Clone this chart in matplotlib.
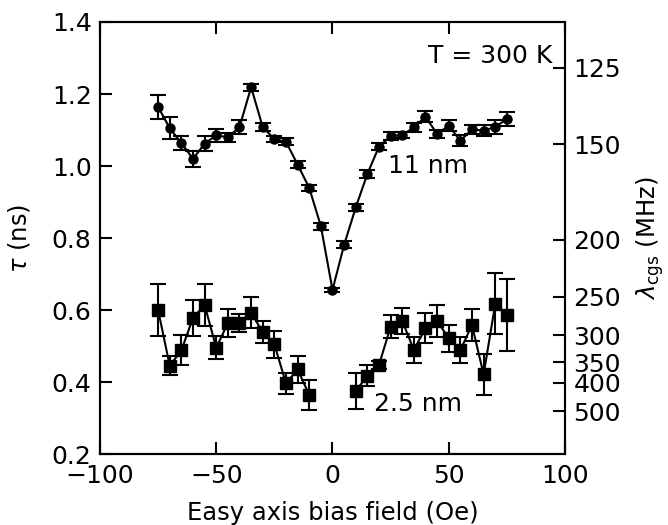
import numpy as np
import matplotlib
matplotlib.use("Agg")
import matplotlib.pyplot as plt

plt.rcParams['font.family'] = ['DejaVu Sans']
plt.rcParams['mathtext.fontset'] = 'dejavusans'

# 11 nm series (circles)
x_11 = [-75, -70, -65, -60, -55, -50, -45, -40, -35, -30, -25, -20, -15, -10, -5, 0,
        5, 10, 15, 20, 25, 30, 35, 40, 45, 50, 55, 60, 65, 70, 75]
tau_11 = [1.164, 1.105, 1.064, 1.020, 1.062, 1.085, 1.080, 1.108, 1.219, 1.108, 1.075, 1.067,
          1.004, 0.939, 0.833, 0.656,
          0.781, 0.885, 0.978, 1.054, 1.083, 1.086, 1.107, 1.137, 1.089, 1.112, 1.070, 1.102,
          1.098, 1.109, 1.130]
err_11 = [0.034, 0.030, 0.020, 0.022, 0.020, 0.018, 0.012, 0.020, 0.010, 0.012, 0.008, 0.010,
          0.010, 0.008, 0.010, 0.006,
          0.010, 0.010, 0.010, 0.010, 0.012, 0.008, 0.012, 0.015, 0.010, 0.015, 0.015, 0.012,
          0.015, 0.020, 0.020]

# 2.5 nm series (squares), two branches
x_25_left = [-75, -70, -65, -60, -55, -50, -45, -40, -35, -30, -25, -20, -15, -10]
tau_25_left = [0.600, 0.445, 0.488, 0.578, 0.614, 0.495, 0.564, 0.564, 0.593, 0.538, 0.505,
               0.396, 0.435, 0.364]
err_25_left = [0.071, 0.026, 0.042, 0.050, 0.058, 0.032, 0.040, 0.026, 0.043, 0.031, 0.038,
               0.028, 0.038, 0.042]
x_25_right = [10, 15, 20, 25, 30, 35, 40, 45, 50, 55, 60, 65, 70, 75]
tau_25_right = [0.375, 0.417, 0.447, 0.554, 0.570, 0.489, 0.550, 0.570, 0.521, 0.489, 0.558,
                0.421, 0.617, 0.587]
err_25_right = [0.049, 0.029, 0.010, 0.033, 0.036, 0.035, 0.043, 0.044, 0.038, 0.036, 0.045,
                0.057, 0.085, 0.100]

lam_ticks = [125, 150, 200, 250, 300, 350, 400, 500]  # MHz

FS = 18
FSL = 17.5
LW = 1.5

fig = plt.figure(figsize=(6.68, 5.25), dpi=100)
ax = fig.add_axes([0.1497, 0.1352, 0.6961, 0.8229])

ax.errorbar(x_11, tau_11, yerr=err_11, color='black', marker='o', markersize=6.5,
            lw=LW, elinewidth=LW, capsize=5.5, capthick=LW)
for xs, ys, es in [(x_25_left, tau_25_left, err_25_left),
                   (x_25_right, tau_25_right, err_25_right)]:
    ax.errorbar(xs, ys, yerr=es, color='black', marker='s', markersize=8,
                lw=LW, elinewidth=LW, capsize=5.5, capthick=LW)

ax.set_xlim(-100, 100)
ax.set_ylim(0.2, 1.4)
ax.set_xticks([-100, -50, 0, 50, 100])
ax.set_xticklabels(['\u2212100', '\u221250', '0', '50', '100'])
ax.set_yticks([0.2, 0.4, 0.6, 0.8, 1.0, 1.2, 1.4])
ax.set_yticklabels(['0.2', '0.4', '0.6', '0.8', '1.0', '1.2', '1.4'])
ax.tick_params(axis='both', direction='in', length=8.5, width=LW, labelsize=FS)
ax.tick_params(axis='x', top=True, pad=7)
ax.tick_params(axis='y', pad=6)
for s in ax.spines.values():
    s.set_linewidth(LW)

ax.set_xlabel('Easy axis bias field (Oe)', fontsize=FSL)
ax.xaxis.set_label_coords(0.5, -0.108)
ax.set_ylabel(r'$\tau$ (ns)', fontsize=FSL)
ax.yaxis.set_label_coords(-0.147, 0.5)

ax2 = ax.twinx()
ax2.set_ylim(ax.get_ylim())
ax2.set_yticks([1000.0 / (2 * np.pi * l) for l in lam_ticks])
ax2.set_yticklabels([str(l) for l in lam_ticks])
ax2.tick_params(axis='y', direction='in', length=8.5, width=LW, labelsize=FS, pad=6)
for s in ax2.spines.values():
    s.set_linewidth(LW)
ax2.set_ylabel(r'$\lambda_{\rm cgs}$ (MHz)', fontsize=FSL)
ax2.yaxis.set_label_coords(1.148, 0.5)

ax.text(0.972, 0.905, 'T = 300 K', transform=ax.transAxes, ha='right', va='baseline',
        fontsize=FS)
ax.text(24, 1.0, '11 nm', ha='left', va='center', fontsize=FS)
ax.text(18, 0.34, '2.5 nm', ha='left', va='center', fontsize=FS)

fig.savefig('out.png', dpi=100)
